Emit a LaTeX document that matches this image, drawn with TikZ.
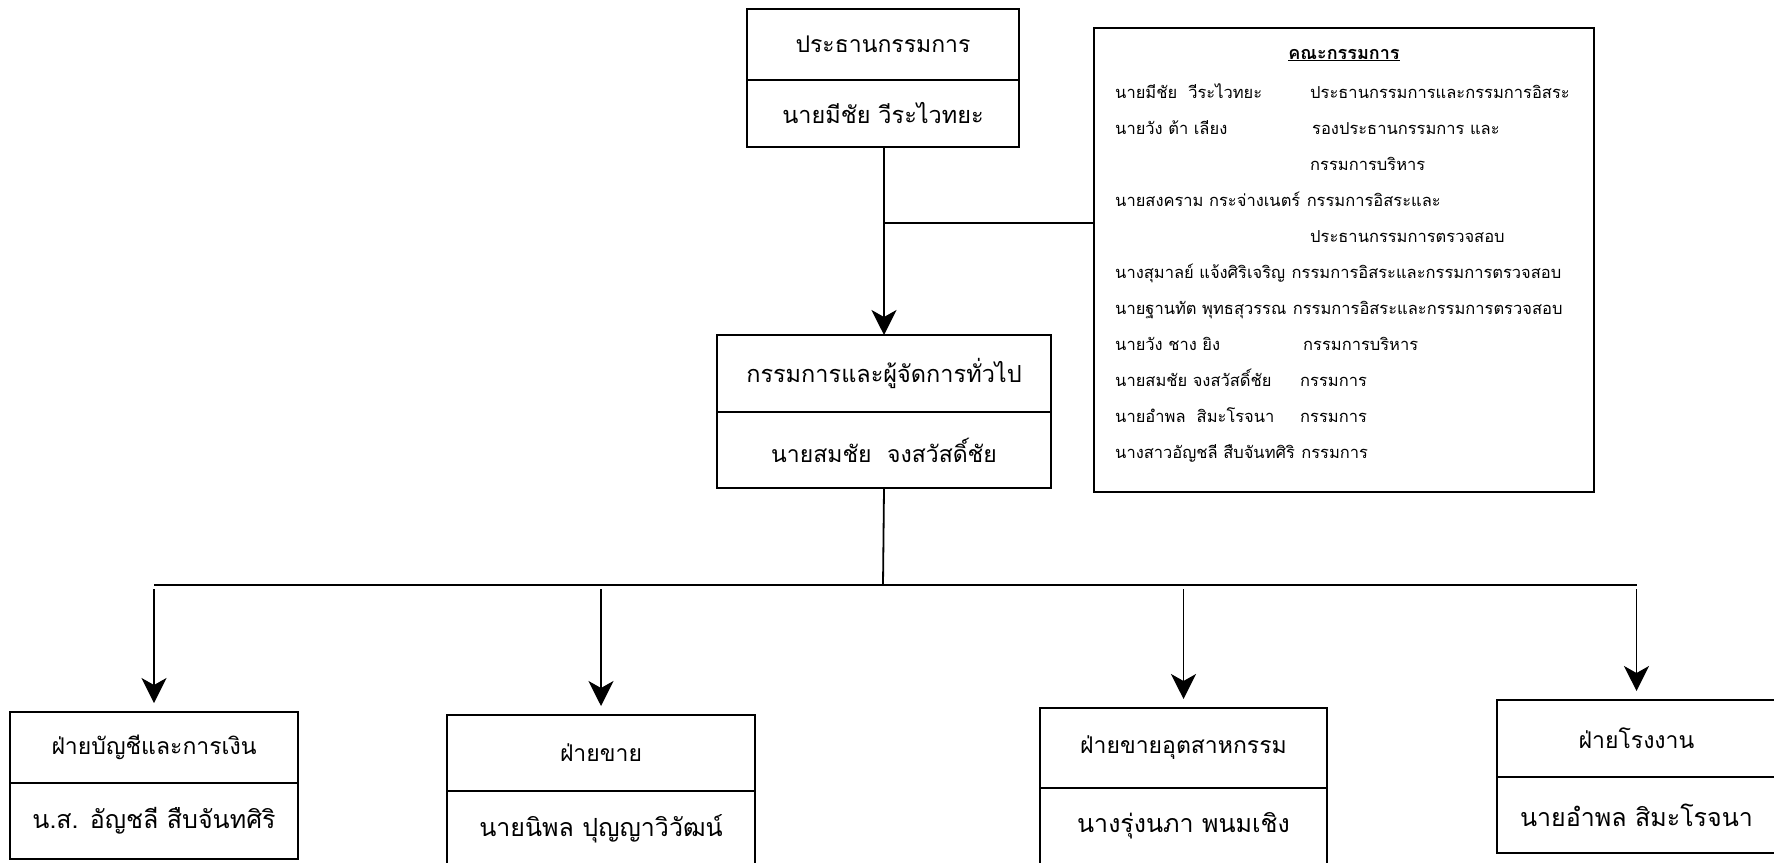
\documentclass[tikz,border=0pt]{standalone}
\usepackage{fontspec}
\setmainfont{Loma}[Script=Thai]
\usetikzlibrary{positioning, arrows.meta}
\tikzset{
    unitbox/.style={
        draw, line width=2.6pt, outer sep=0pt, inner sep=0pt, fill=white
    },
    headbox/.style={
        unitbox, font=\fontsize{23}{27}\selectfont
    },
    namebox/.style={
        unitbox, font=\fontsize{25}{29}\selectfont
    },
    link/.style={
        line width=1.8pt
    },
    ptr/.style={
        link, -{Stealth[length=25pt, width=25pt, inset=7pt]}
    },
    boardtext/.style={
        anchor=base west, inner sep=0pt, font=\fontsize{16.5}{20}\selectfont
    }
}

\begin{document}
\begin{tikzpicture}[x=1pt, y=-1pt]
    \useasboundingbox (0,0) rectangle (1774,862);
    % chairman
    \node[headbox, minimum width=272pt, minimum height=71pt] (chairhead) at (883,44.5) {ประธานกรรมการ};
    \node[namebox, minimum width=272pt, minimum height=67pt, below=0pt of chairhead, font=\fontsize{23.5}{27}\selectfont] (chairname) {นายมีชัย วีระไวทยะ};
    % board of directors
    \node[draw, line width=2.4pt, minimum width=500pt, minimum height=464pt] (board) at (1344,260) {};
    \node[inner sep=0pt, font=\fontsize{18}{21}\selectfont\bfseries] (boardhead) at (1344,55) {\underline{คณะกรรมการ}};
    \foreach \row/\txt in {1/{นายมีชัย\ \ วีระไวทยะ}, 2/{นายวัง ต้า เลียง}, 4/{นายสงคราม กระจ่างเนตร์},
        6/{นางสุมาลย์ แจ้งศิริเจริญ}, 7/{นายฐานทัต พุทธสุวรรณ}, 8/{นายวัง ชาง ยิง},
        9/{นายสมชัย จงสวัสดิ์ชัย}, 10/{นายอำพล\ \ สิมะโรจนา}, 11/{นางสาวอัญชลี สืบจันทศิริ}}
    {
        \pgfmathsetmacro\rowy{98+(\row-1)*36}
        \node[boardtext] (who-\row) at (1115,\rowy) {\txt};
    }
    % roles in the second column
    \foreach \row/\x/\txt in {1/1310/{ประธานกรรมการและกรรมการอิสระ}, 2/1312/{รองประธานกรรมการ และ},
        3/1310/{กรรมการบริหาร}, 5/1310/{ประธานกรรมการตรวจสอบ}, 8/1303/{กรรมการบริหาร},
        9/1300/{กรรมการ}, 10/1300/{กรรมการ}}
    {
        \pgfmathsetmacro\rowy{98+(\row-1)*36}
        \node[boardtext] (role-\row) at (\x,\rowy) {\txt};
    }
    % roles that follow a long name
    \foreach \row/\txt in {4/{กรรมการอิสระและ}, 6/{กรรมการอิสระและกรรมการตรวจสอบ},
        7/{กรรมการอิสระและกรรมการตรวจสอบ}, 11/{กรรมการ}}
        \node[boardtext, xshift=6pt] (role-\row) at (who-\row.base east) {\txt};
    % managing director
    \node[headbox, minimum width=334pt, minimum height=77pt, font=\fontsize{23.5}{27}\selectfont] (mdhead) at (884,373.5) {กรรมการและผู้จัดการทั่วไป};
    \node[namebox, minimum width=334pt, minimum height=76pt, below=0pt of mdhead, font=\fontsize{23}{27}\selectfont] (mdname) {นายสมชัย\ \ จงสวัสดิ์ชัย};
    % departments
    \node[headbox, minimum width=288pt, minimum height=71pt] (acchead) at (154,747.5) {ฝ่ายบัญชีและการเงิน};
    \node[namebox, minimum width=288pt, minimum height=76pt, below=0pt of acchead] (accname) {น.ส. อัญชลี สืบจันทศิริ};
    \node[headbox, minimum width=308pt, minimum height=76pt] (salehead) at (601,753) {ฝ่ายขาย};
    \node[namebox, minimum width=308pt, minimum height=76pt, below=0pt of salehead] (salename) {นายนิพล ปุญญาวิวัฒน์};
    \node[headbox, minimum width=287pt, minimum height=80pt] (indhead) at (1183.5,748) {ฝ่ายขายอุตสาหกรรม};
    \node[namebox, minimum width=287pt, minimum height=76pt, below=0pt of indhead] (indname) {นางรุ่งนภา พนมเชิง};
    \node[headbox, minimum width=279pt, minimum height=77pt] (planthead) at (1636.5,738.5) {ฝ่ายโรงงาน};
    \node[namebox, minimum width=279pt, minimum height=76pt, below=0pt of planthead] (plantname) {นายอำพล สิมะโรจนา};
    % connectors
    \coordinate (tap) at (883,223);
    \coordinate (bus) at (883,585);
    \draw[ptr] (mdhead.north |- chairname.south) -- (mdhead.north);
    \draw[link] (tap) -- (tap -| board.west);
    \draw[link] (mdname.south) -- (bus);
    \draw[link] (acchead.north |- bus) -- (planthead.north |- bus);
    \foreach \dep in {acc, sale, ind, plant}
        \draw[ptr, shorten <=4pt, shorten >=9pt] (\dep head.north |- bus) -- (\dep head.north);
\end{tikzpicture}
\end{document}
